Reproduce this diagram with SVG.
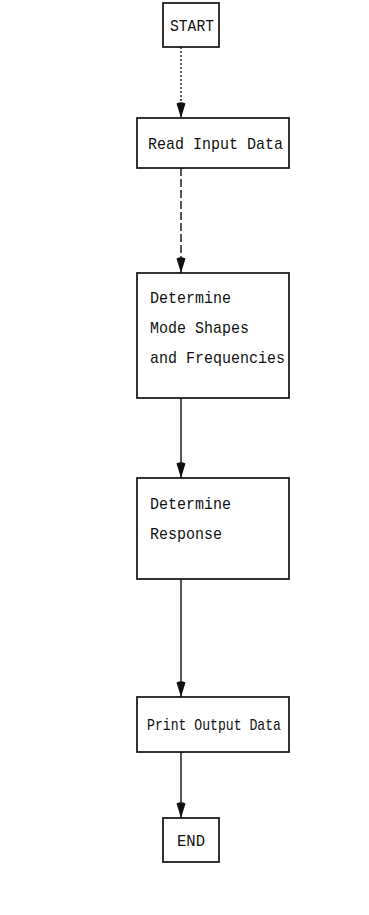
<svg xmlns="http://www.w3.org/2000/svg" width="369" height="915" viewBox="0 0 369 915">
<style>
.box{fill:#fff;stroke:#111;stroke-width:1.7}
.t{font-family:"Liberation Mono","Courier New",monospace;font-size:17px;fill:#111}
.c{stroke:#111;stroke-width:1.4;fill:none}
.dot{stroke-dasharray:2 2}
.dash{stroke-dasharray:8 3}
</style>
<defs>
<marker id="ah" viewBox="0 0 16 10" refX="16" refY="5" markerWidth="16" markerHeight="10" markerUnits="userSpaceOnUse" orient="auto">
<path d="M1.5,0.5 Q-1,5 1.5,9.5 L16,5 Z" fill="#111"/>
</marker>
</defs>
<rect width="369" height="915" fill="#fff"/>
<g id="connectors">
<line class="c dot" x1="181" y1="47" x2="181" y2="118" marker-end="url(#ah)"/>
<line class="c dash" x1="181" y1="168" x2="181" y2="273" marker-end="url(#ah)"/>
<line class="c" x1="181" y1="398" x2="181" y2="478" marker-end="url(#ah)"/>
<line class="c" x1="181" y1="579" x2="181" y2="697" marker-end="url(#ah)"/>
<line class="c" x1="181" y1="752" x2="181" y2="818" marker-end="url(#ah)"/>
</g>
<g id="start">
<rect class="box" x="163" y="3" width="56" height="44"/>
<text class="t" x="170" y="31" textLength="44" lengthAdjust="spacingAndGlyphs">START</text>
</g>
<g id="read">
<rect class="box" x="137" y="118" width="152" height="50"/>
<text class="t" x="148" y="149" textLength="135" lengthAdjust="spacingAndGlyphs">Read Input Data</text>
</g>
<g id="modes">
<rect class="box" x="137" y="273" width="152" height="125"/>
<text class="t" x="150" y="303" textLength="81" lengthAdjust="spacingAndGlyphs">Determine</text>
<text class="t" x="150" y="333" textLength="99" lengthAdjust="spacingAndGlyphs">Mode Shapes</text>
<text class="t" x="150" y="363" textLength="135" lengthAdjust="spacingAndGlyphs">and Frequencies</text>
</g>
<g id="response">
<rect class="box" x="137" y="478" width="152" height="101"/>
<text class="t" x="150" y="509" textLength="81" lengthAdjust="spacingAndGlyphs">Determine</text>
<text class="t" x="150" y="539" textLength="72" lengthAdjust="spacingAndGlyphs">Response</text>
</g>
<g id="print">
<rect class="box" x="137" y="697" width="152" height="55"/>
<text class="t" x="147" y="730" textLength="134" lengthAdjust="spacingAndGlyphs">Print Output Data</text>
</g>
<g id="end">
<rect class="box" x="163" y="818" width="56" height="44"/>
<text class="t" x="177" y="846" textLength="28" lengthAdjust="spacingAndGlyphs">END</text>
</g>
</svg>
